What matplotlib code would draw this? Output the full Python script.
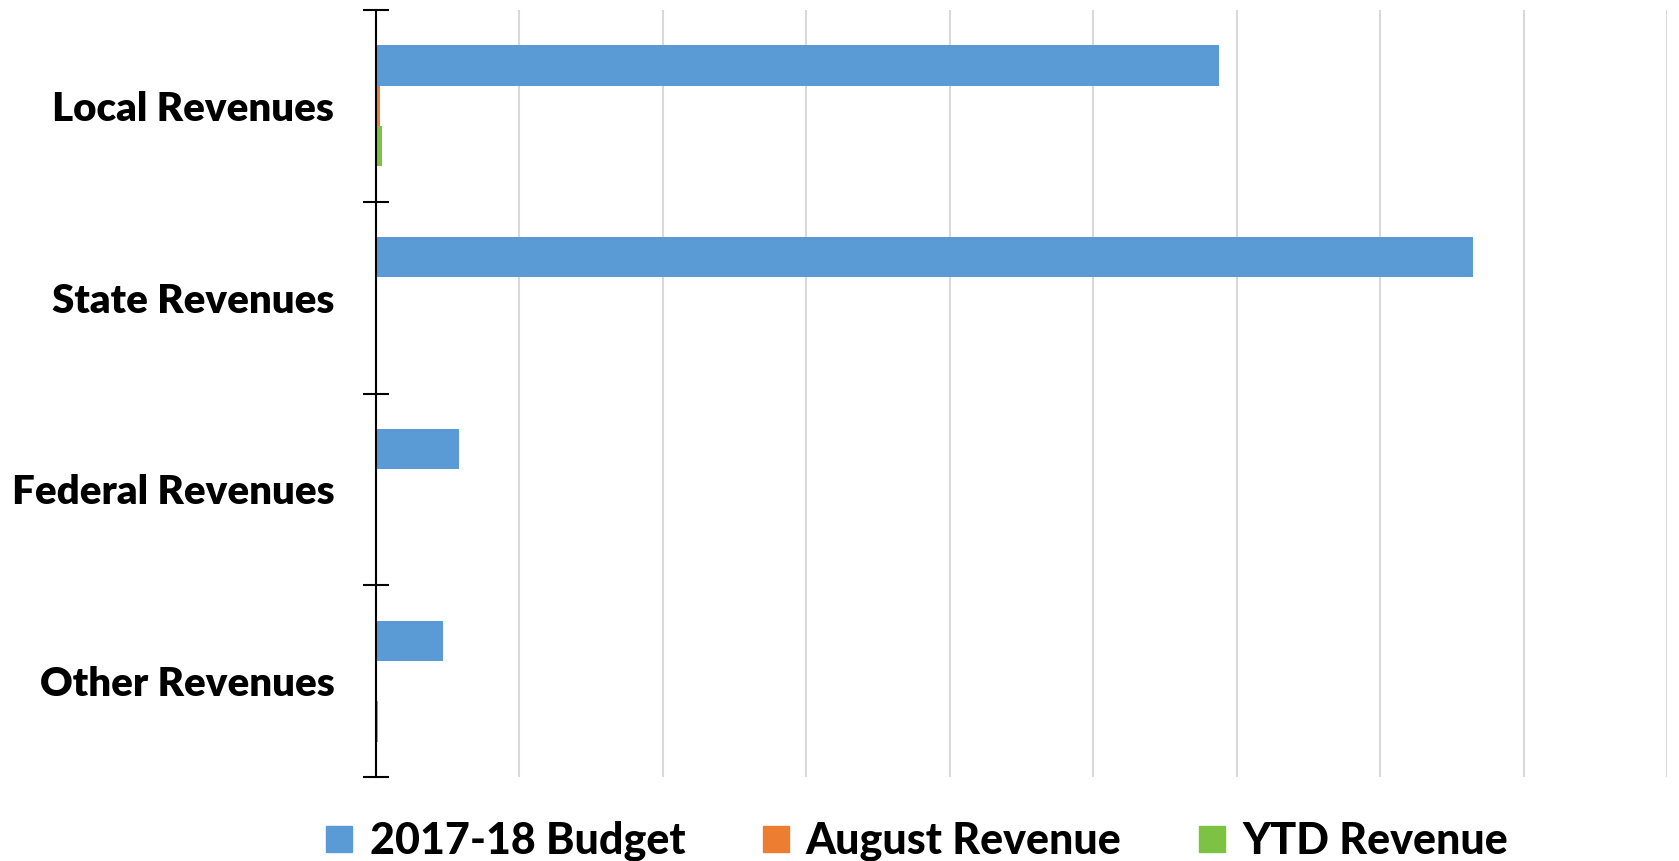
import matplotlib.pyplot as plt
import numpy as np
from matplotlib.lines import Line2D

categories = ["Local Revenues", "State Revenues", "Federal Revenues", "Other Revenues"]
series_names = ["2017-18 Budget", "August Revenue", "YTD Revenue"]
budget = [5.88, 7.65, 0.58, 0.47]
august = [0.03, 0.0, 0.0, 0.0]
ytd = [0.045, 0.0, 0.0, 0.012]
colors = ["#5B9BD5", "#ED7D31", "#7DC242"]

plt.rcParams["font.family"] = ["Lato", "DejaVu Sans"]
plt.rcParams["font.weight"] = "bold"

fig = plt.figure(figsize=(16.79, 8.61), dpi=100)
ax = fig.add_axes([376 / 1679, 1 - 777 / 861, (1667 - 376) / 1679, (777 - 10) / 861])

y = np.arange(len(categories))
h = 0.21
for i, (vals, c) in enumerate(zip([budget, august, ytd], colors)):
    ax.barh(y + (i - 1) * h, vals, height=h, color=c, zorder=3)

ax.set_xlim(0, 9)
ax.set_ylim(len(categories) - 0.5, -0.5)
ax.set_xticks(np.arange(1, 10))
ax.tick_params(axis="x", length=0, labelbottom=False)
ax.grid(axis="x", color="#D9D9D9", lw=1.5, zorder=0)

# boundaries as major ticks, labels on minor ticks
ax.set_yticks(np.arange(-0.5, len(categories)))
ax.set_yticklabels([])
ax.tick_params(axis="y", which="major", direction="inout", length=19, width=1.5, color="black")
ax.set_yticks(y, minor=True)
ax.set_yticklabels(categories, minor=True, fontsize=29, fontweight="heavy")
ax.tick_params(axis="y", which="minor", length=0, pad=30)

for s in ["top", "right", "bottom"]:
    ax.spines[s].set_visible(False)
ax.spines["left"].set_linewidth(1.5)
ax.spines["left"].set_zorder(4)

handles = [Line2D([], [], marker="s", ls="", color=c, markersize=19) for c in colors]
fig.legend(handles, series_names, loc="center", bbox_to_anchor=(915 / 1679, 1 - 841 / 861),
           ncol=3, frameon=False, handlelength=0.8, handletextpad=0.3, columnspacing=1.7,
           prop={"size": 31, "weight": "black"})

fig.savefig("out.png", dpi=100)
